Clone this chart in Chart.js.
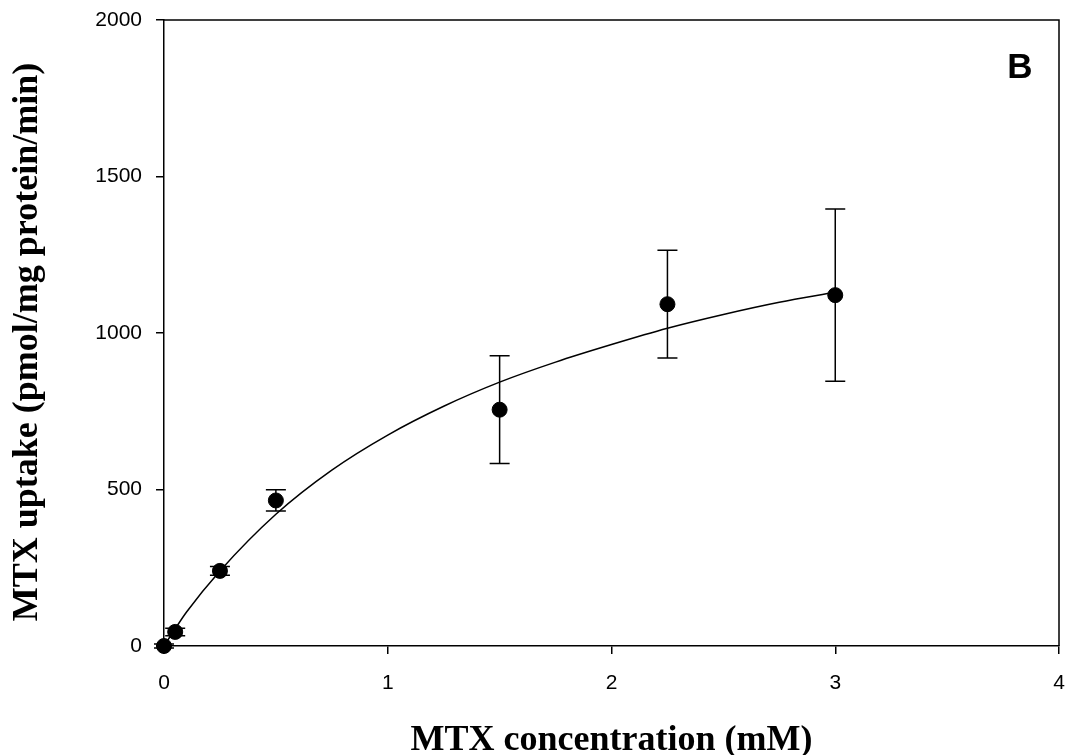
<!DOCTYPE html>
<html>
<head>
<meta charset="utf-8">
<script src="https://cdn.jsdelivr.net/npm/chart.js@4.4.1/dist/chart.umd.min.js"></script>
<style>
    html, body { margin: 0; padding: 0; background: #fff; }
    #wrap { width: 1068px; height: 755px; }
</style>
</head>
<body>
<div id="wrap"><canvas id="uptakeChart" width="1068" height="755"></canvas></div>
<script>
// measured points
const concentration = [0, 0.05, 0.25, 0.5, 1.5, 2.25, 3];
const uptake = [0, 45, 240, 465, 755, 1092, 1121];
const uptakeErr = [6, 12, 14, 34, 172, 172, 275];

// fitted curve
const curveX = [0, 0.05, 0.1, 0.25, 0.5, 0.75, 1, 1.25, 1.5, 1.75, 2, 2.25, 2.5, 2.75, 3];
const curveY = [0, 55, 108, 240, 421, 562, 674, 766, 843, 907, 963, 1015, 1059, 1098, 1130];

const xTicks = [0, 1, 2, 3, 4];
const yTicks = [0, 500, 1000, 1500, 2000];

const xTitle = 'MTX concentration (mM)';
const yTitle = 'MTX uptake (pmol/mg protein/min)';
const panelLabel = 'B';

const serifBold = 'bold 36px "Liberation Serif", "Times New Roman", serif';

// error bars, top/right frame, axis titles and panel letter
const extras = {
    id: 'extras',
    afterDatasetsDraw(chart) {
        const ctx = chart.ctx;
        const xs = chart.scales.x;
        const ys = chart.scales.y;
        const a = chart.chartArea;
        ctx.save();
        ctx.strokeStyle = '#000';
        ctx.lineWidth = 1.5;
        for (let i = 0; i < concentration.length; i++) {
            const px = xs.getPixelForValue(concentration[i]);
            const top = ys.getPixelForValue(uptake[i] + uptakeErr[i]);
            const bot = ys.getPixelForValue(uptake[i] - uptakeErr[i]);
            ctx.beginPath();
            ctx.moveTo(px, top);
            ctx.lineTo(px, bot);
            ctx.moveTo(px - 10, top);
            ctx.lineTo(px + 10, top);
            ctx.moveTo(px - 10, bot);
            ctx.lineTo(px + 10, bot);
            ctx.stroke();
        }
        ctx.beginPath();
        ctx.moveTo(a.left, a.top);
        ctx.lineTo(a.right, a.top);
        ctx.lineTo(a.right, a.bottom);
        ctx.stroke();

        ctx.fillStyle = '#000';
        ctx.textBaseline = 'alphabetic';
        ctx.textAlign = 'center';

        ctx.font = serifBold;
        ctx.fillText(xTitle, (a.left + a.right) / 2, 750);

        ctx.save();
        ctx.translate(37, 342);
        ctx.rotate(-Math.PI / 2);
        ctx.fillText(yTitle, 0, 0);
        ctx.restore();

        ctx.font = 'bold 35px "Liberation Sans", Arial, sans-serif';
        ctx.fillText(panelLabel, 1020, 78);
        ctx.restore();
    }
};

const tickFont = {family: '"Liberation Sans", Arial, sans-serif', size: 21};

// keep the plot box fixed: no extra room for overhanging tick labels
function noOverhang(s) {
    s.paddingTop = 0;
    s.paddingBottom = 0;
    s.paddingLeft = 0;
    s.paddingRight = 0;
}

new Chart(document.getElementById('uptakeChart'), {
    type: 'scatter',
    data: {
        datasets: [{
                type: 'line',
                label: 'fit',
                data: curveX.map((x, i) => ({x: x, y: curveY[i]})),
                borderColor: '#000',
                borderWidth: 1.5,
                pointRadius: 0,
                cubicInterpolationMode: 'monotone',
                fill: false,
                order: 2
            }, {
                label: 'MTX uptake',
                data: concentration.map((x, i) => ({x: x, y: uptake[i]})),
                backgroundColor: '#000',
                borderColor: '#000',
                pointRadius: 7.5,
                pointHoverRadius: 7.5,
                clip: false,
                order: 1
            }]
    },
    options: {
        responsive: false,
        animation: false,
        layout: {padding: {left: 0, right: 9, top: 20, bottom: 0}},
        plugins: {
            legend: {display: false},
            tooltip: {enabled: false}
        },
        scales: {
            x: {
                type: 'linear',
                min: 0,
                max: 4,
                afterBuildTicks: s => { s.ticks = xTicks.map(v => ({value: v})); },
                afterFit: s => { s.height = 109; noOverhang(s); },
                grid: {drawOnChartArea: false, tickLength: 8, color: '#000', lineWidth: 1.5},
                border: {color: '#000', width: 1.5},
                ticks: {color: '#000', padding: 17, font: tickFont, callback: v => String(v)}
            },
            y: {
                min: 0,
                max: 2000,
                afterBuildTicks: s => { s.ticks = yTicks.map(v => ({value: v})); },
                afterFit: s => { s.width = 164; noOverhang(s); },
                grid: {drawOnChartArea: false, tickLength: 8, color: '#000', lineWidth: 1.5},
                border: {color: '#000', width: 1.5},
                ticks: {color: '#000', padding: 14, font: tickFont, callback: v => String(v)}
            }
        }
    },
    plugins: [extras]
});
</script>
</body>
</html>
